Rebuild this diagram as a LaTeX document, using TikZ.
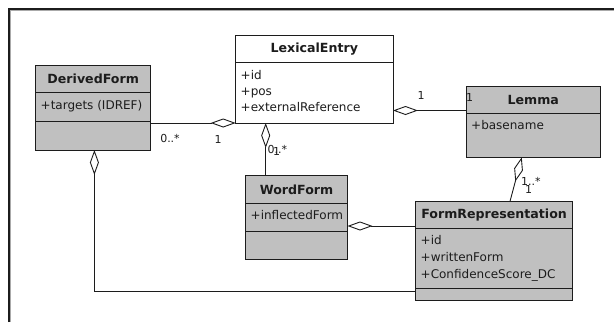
\documentclass[tikz,border=0pt]{standalone}
\usepackage{fontspec}
\setmainfont{DejaVu Sans}
\usetikzlibrary{arrows.meta,calc}
\definecolor{boxgray}{RGB}{192,192,192}
\definecolor{ink}{RGB}{28,28,28}
\definecolor{framegray}{RGB}{170,170,170}

\begin{document}
\begin{tikzpicture}[x=1pt,y=-1pt,
  classbox/.style={draw=ink, line width=1pt, fill=boxgray, anchor=north west,
    inner sep=0pt, outer sep=0pt},
  divider/.style={draw=ink, line width=1pt},
  title/.style={font=\fontsize{12.6}{14}\selectfont\bfseries, text=ink, inner sep=0pt},
  attr/.style={font=\fontsize{12}{14}\selectfont, text=ink, anchor=west, inner sep=0pt,
    text height=9pt, text depth=2.7pt},
  mult/.style={font=\fontsize{11}{12}\selectfont, text=ink, inner sep=0pt},
  agg/.style={draw=ink, line width=0.9pt,
    {Diamond[open,length=25pt,width=9pt,line width=0.9pt]}-}
]
\useasboundingbox (0,0) rectangle (614,322);

% window frame
\draw[framegray, line width=1pt] (10.5,322) -- (10.5,10.5) -- (614,10.5);
\draw[ink, line width=2pt] (9,322) -- (9,9) -- (614,9);

% DerivedForm
\node[classbox, minimum width=115pt, minimum height=84.3pt] (df) at (35.7,65.7) {};
\draw[divider] (35.7,92) -- (150.7,92);
\draw[divider] (35.7,121) -- (150.7,121);
\node[title] (dft) at (93.2,78.8) {DerivedForm};
\node[attr] (dfa) at (40.5,106.7) {+targets (IDREF)};

% LexicalEntry
\node[classbox, fill=white, minimum width=157.3pt, minimum height=87.3pt] (lex) at (235.7,35.7) {};
\draw[divider] (235.7,62.7) -- (393,62.7);
\node[title] (lext) at (314.3,49.2) {LexicalEntry};
\node[attr] (lexa) at (240.5,76.7) {+id};
\node[attr] (lexb) at (240.5,92.7) {+pos};
\node[attr] (lexc) at (240.5,108.5) {+externalReference};

% Lemma
\node[classbox, minimum width=133.3pt, minimum height=71.3pt] (lem) at (466.7,86) {};
\draw[divider] (466.7,113.3) -- (600,113.3);
\node[title] (lemt) at (533.3,99.7) {Lemma};
\node[attr] (lema) at (471,126.7) {+basename};

% WordForm
\node[classbox, minimum width=101.8pt, minimum height=83.6pt] (wf) at (245.7,175.7) {};
\draw[divider] (245.7,203.3) -- (347.5,203.3);
\draw[divider] (245.7,231) -- (347.5,231);
\node[title] (wft) at (296.6,189.5) {WordForm};
\node[attr] (wfa) at (250.5,216.7) {+inflectedForm};

% FormRepresentation
\node[classbox, minimum width=156.8pt, minimum height=99.5pt] (fr) at (415.7,201) {};
\draw[divider] (415.7,228.3) -- (572.5,228.3);
\draw[divider] (415.7,288.5) -- (572.5,288.5);
\node[title] (frt) at (494.1,214.6) {FormRepresentation};
\node[attr] (fra) at (420.5,241.7) {+id};
\node[attr] (frb) at (420.5,258.3) {+writtenForm};
\node[attr] (frc) at (420.5,275) {+ConfidenceScore\_DC};

% aggregations
\draw[agg] (lex.south west) -- (lex.south west -| df.east);
\node[mult] (m1) at (170,138) {0..*};
\node[mult] (m2) at (218,139) {1};

\coordinate (lexB) at ([xshift=30pt]lex.south west);
\draw[agg] (lexB) -- (lexB |- wf.north);
\node[mult, anchor=west] (m3) at (267.5,149) {0..*};
\node[mult] (m4) at (276.5,151) {1};

\coordinate (lexR) at ([yshift=12.5pt]lex.south east);
\draw[agg] (lexR) -- (lexR -| lem.west);
\node[mult] (m5) at (421,95) {1};
\node[mult] (m6) at (469.5,97) {1};

\draw[agg] ([xshift=-11.6pt]lem.south) -- ([xshift=16pt]fr.north);
\node[mult, anchor=west] (m7) at (521,181) {1..*};
\node[mult] (m8) at (528.5,189) {1};

\coordinate (wfR) at ([yshift=-8.5pt]wf.east);
\draw[agg] (wfR) -- (wfR -| fr.west);

\coordinate (dfB) at ([xshift=1.2pt]df.south);
\draw[agg] (dfB) |- ([yshift=9.5pt]fr.south west);
\end{tikzpicture}
\end{document}
